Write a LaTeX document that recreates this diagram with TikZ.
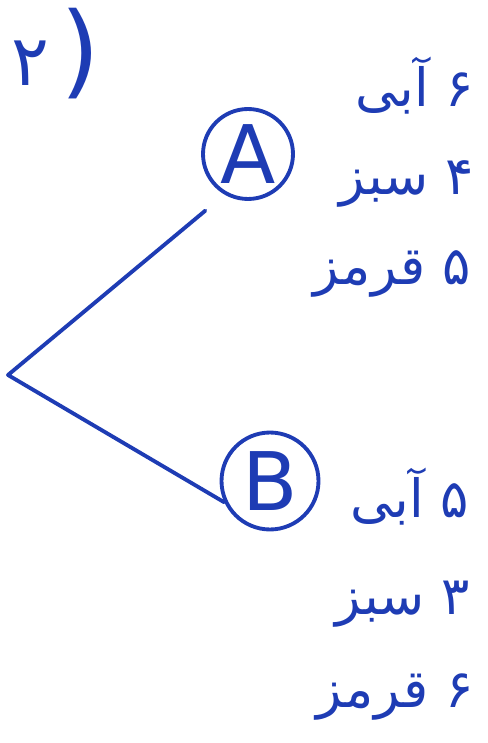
\documentclass[tikz,border=0pt]{standalone}
\usepackage{fontspec}
\setsansfont{DejaVu Sans}
\newfontfamily\arabicfont[Script=Arabic]{DejaVu Sans}
\TeXXeTstate=1
\definecolor{inkblue}{HTML}{1E3CB4}

\begin{document}
\begin{tikzpicture}[
  x=0.02cm,y=-0.02cm,
  ink/.style={draw=inkblue,line width=2.2pt,line cap=round,line join=round},
  choice/.style={ink,circle,inner sep=0pt,text=inkblue,font=\sffamily\fontsize{46}{50}\selectfont},
  count/.style={text=inkblue,inner sep=0pt,font=\arabicfont\fontsize{30}{34}\selectfont},
]
  \useasboundingbox (0,0) rectangle (487,743);

  % question number
  \node[text=inkblue,inner sep=0pt,font=\fontsize{40}{44}\selectfont] (num) at (56,54)
    {{\arabicfont ۲}\,{\sffamily\fontsize{58}{62}\selectfont)}};

  % the two choices
  \node[choice,minimum size=1.8cm]  (A) at (248,154) {A};
  \node[choice,minimum size=1.94cm] (B) at (270,481) {B};
  \coordinate (root) at (8,375);

  % branches
  \draw[ink,shorten <=0.5cm] (A.240) -- (root) -- (B.205);

  % contents of A
  \node[count] (a1) at (415,86)  {\beginR ۶ آبی\endR};
  \node[count] (a2) at (407,184) {\beginR ۴ سبز\endR};
  \node[count] (a3) at (392,274) {\beginR ۵ قرمز\endR};

  % contents of B
  \node[count] (b1) at (410,497) {\beginR ۵ آبی\endR};
  \node[count] (b2) at (403,604) {\beginR ۳ سبز\endR};
  \node[count] (b3) at (395,697) {\beginR ۶ قرمز\endR};
\end{tikzpicture}
\end{document}
